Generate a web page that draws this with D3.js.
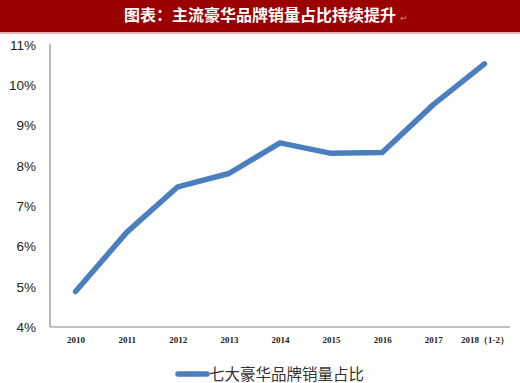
<!DOCTYPE html>
<html><head><meta charset="utf-8">
<script src="https://cdn.jsdelivr.net/npm/d3@7/dist/d3.min.js"></script>
<style>html,body{margin:0;padding:0;background:#fff;}svg{display:block;}</style>
</head><body>
<svg id="c" width="520" height="383"></svg>
<script>
const categories = ["2010","2011","2012","2013","2014","2015","2016","2017","2018（1-2）"];
const values = [4.88, 6.35, 7.48, 7.81, 8.57, 8.31, 8.33, 9.52, 10.53];
const yTicks = [4,5,6,7,8,9,10,11];
const title = "图表：主流豪华品牌销量占比持续提升";
const seriesName = "七大豪华品牌销量占比";

const svg = d3.select("#c");
// title band
svg.append("rect").attr("x",0).attr("y",0).attr("width",520).attr("height",32).attr("fill","#9a0000");
svg.append("rect").attr("x",0).attr("y",32).attr("width",520).attr("height",2).attr("fill","#e8b4b4");
svg.append("text").attr("x",260).attr("y",21).attr("text-anchor","middle")
  .attr("font-family","'Noto Sans CJK SC'").attr("font-weight","bold").attr("font-size",16)
  .attr("fill","#fff").text(title);
svg.append("text").attr("x",400).attr("y",21).attr("font-size",9).attr("fill","#c88").attr("font-family","'DejaVu Sans'").text("↵");

const x = d3.scalePoint().domain(categories).range([50,510]).padding(0.5);
const y = d3.scaleLinear().domain([4,11]).range([327,45]);

// axes lines
svg.append("line").attr("x1",50).attr("x2",50).attr("y1",y(11)-1).attr("y2",y(4)).attr("stroke","#888").attr("stroke-width",1.2);
svg.append("line").attr("x1",50).attr("x2",510).attr("y1",y(4)).attr("y2",y(4)).attr("stroke","#888").attr("stroke-width",1.2);

const yAxis = d3.axisLeft(y).tickValues(yTicks).tickSize(0).tickPadding(14).tickFormat(d=>d+"%");
const gy = svg.append("g").attr("transform","translate(50,0)").call(yAxis);
gy.select(".domain").remove();
gy.selectAll("text").attr("font-family","'Liberation Sans'").attr("font-size",13.5).attr("fill","#222");

const xAxis = d3.axisBottom(x).tickSize(0).tickPadding(10);
const gx = svg.append("g").attr("transform",`translate(0,${y(4)})`).call(xAxis);
gx.select(".domain").remove();
gx.selectAll("text").attr("font-family","'Liberation Serif'").attr("font-weight","bold").attr("font-size",9).attr("fill","#222");

const line = d3.line().x((d,i)=>x(categories[i])).y(d=>y(d));
svg.append("path").datum(values).attr("d",line).attr("fill","none")
  .attr("stroke","#4a7ebf").attr("stroke-width",5.5).attr("stroke-linecap","round").attr("stroke-linejoin","round");

// legend
svg.append("line").attr("x1",178).attr("x2",207).attr("y1",374).attr("y2",374)
  .attr("stroke","#4a7ebf").attr("stroke-width",5.5).attr("stroke-linecap","round");
svg.append("text").attr("x",209).attr("y",373).attr("dominant-baseline","central")
  .attr("font-family","'Noto Sans CJK SC'").attr("font-size",15.5)
  .attr("fill","#333").text(seriesName);
</script>
</body></html>
